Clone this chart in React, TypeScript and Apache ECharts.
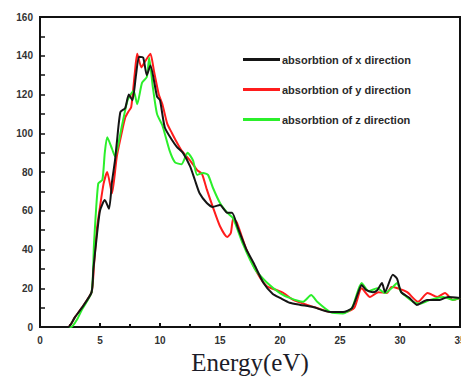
import React, { useEffect, useRef } from "react";
import * as echarts from "echarts";

const seriesNames = [
  "absorbtion of x direction",
  "absorbtion of y direction",
  "absorbtion of z direction",
];

const energyX = [0, 2.35, 2.9, 3.5, 4.3, 4.45, 4.7, 5.0, 5.4, 5.75, 6.0, 6.25, 6.4, 6.7, 7.1, 7.4, 7.7, 8.0, 8.25, 8.6, 8.9, 9.2, 9.75, 10.0, 10.4, 11.0, 11.4, 11.9, 12.5, 12.9, 13.3, 13.9, 14.4, 15.0, 15.6, 16.0, 16.5, 17.2, 17.8, 18.6, 19.4, 20.0, 20.8, 21.7, 22.75, 24.2, 25.25, 26.0, 26.5, 26.8, 27.2, 27.75, 28.1, 28.5, 28.75, 29.4, 29.75, 30.1, 30.8, 31.4, 32.25, 33.3, 34.0, 35];
const absorbX = [0, 0, 5, 10, 18, 30, 45, 60, 65.5, 61, 75, 86, 95, 111, 113, 120, 117, 130, 139.5, 139, 130, 135, 119, 117, 103, 96.5, 93, 90, 83, 76, 69, 64, 62, 63, 59, 59, 51, 40, 33, 23, 17, 15, 12.5, 11.4, 10.3, 7.7, 7.7, 9.8, 17.5, 21.7, 19, 18, 19, 22.7, 18, 27, 25, 18, 15, 11.4, 14, 14, 15.5, 15];

const energyY = [0, 2.35, 2.9, 3.5, 4.3, 4.5, 4.75, 5.0, 5.3, 5.6, 6.0, 6.4, 6.8, 7.1, 7.35, 7.6, 7.9, 8.1, 8.45, 8.75, 9.2, 9.5, 9.9, 10.2, 10.6, 11.0, 11.25, 11.8, 12.5, 13.1, 13.5, 13.9, 14.4, 15.0, 15.6, 15.9, 16.1, 16.4, 17.2, 18.1, 18.9, 19.75, 20.3, 21.1, 22.25, 23.1, 24.2, 25.5, 26.2, 26.8, 27.5, 28.2, 28.9, 29.3, 29.8, 30.6, 31.5, 32.3, 33.1, 33.75, 34.4, 35];
const absorbY = [0, 0, 5, 10, 18, 32, 51, 62, 74, 80, 69, 88, 100, 108, 111, 113.5, 131, 141, 134, 137, 141, 132, 120, 115, 105, 100, 97, 91, 86, 81, 79, 71, 62, 52, 46.5, 48.5, 56, 54, 40, 28, 21, 19, 17.5, 14, 11.4, 9.8, 7.7, 7.7, 10, 20, 15.5, 18, 17.5, 20.6, 20, 18, 13, 17.5, 15.5, 17.5, 14, 15];

const energyZ = [0, 2.6, 3.1, 3.5, 4.3, 4.5, 4.85, 5.2, 5.4, 5.6, 6.0, 6.25, 6.8, 7.3, 7.8, 8.1, 8.5, 8.9, 9.1, 9.4, 9.75, 10.2, 10.8, 11.25, 11.8, 12.3, 12.75, 13.1, 13.6, 14.0, 14.4, 15.0, 15.6, 16.1, 16.9, 17.9, 18.9, 20.0, 20.8, 21.9, 22.6, 23.1, 24.2, 25.25, 26.0, 26.8, 27.4, 28.1, 28.75, 29.4, 29.75, 30.1, 31.1, 31.7, 32.5, 33.6, 34.4, 35];
const absorbZ = [0, 0, 4, 9, 18, 43, 74, 76, 90, 98, 92, 88, 103, 117, 122, 115, 126, 129, 139, 124, 110, 104, 91, 85, 84, 90, 86, 78.5, 79.5, 78.5, 72, 64, 59, 56, 43, 30, 23, 17.5, 15, 13, 16.5, 13, 7.7, 7, 9.8, 22.7, 18.5, 20, 17.5, 20.6, 22.7, 18, 13, 12, 14, 15.5, 14, 15];

const colors = ["#151515", "#ff1c1c", "#2bef2b"];
const axisTitle = "Energy(eV)";

const zip = (xs: number[], ys: number[]) => xs.map((x, i) => [x, ys[i]]);

export default function App() {
  const ref = useRef<HTMLDivElement>(null);
  useEffect(() => {
    if (!ref.current) return;
    const chart = echarts.init(ref.current, null, { renderer: "svg" });
    const datasets = [zip(energyX, absorbX), zip(energyY, absorbY), zip(energyZ, absorbZ)];
    chart.setOption({
      animation: false,
      backgroundColor: "#ffffff",
      grid: {
        left: 40,
        right: 1,
        top: 17,
        bottom: 51,
        show: true,
        borderColor: "#111",
        borderWidth: 2,
        outerBoundsMode: "none",
        containLabel: false,
      },
      legend: {
        orient: "vertical",
        left: 243,
        top: 54,
        padding: 0,
        itemWidth: 37,
        itemHeight: 3,
        itemGap: 19,
        icon: "rect",
        data: seriesNames,
        textStyle: {
          fontFamily: "Liberation Sans, Arial, sans-serif",
          fontWeight: "bold",
          fontSize: 11,
          color: "#2a2a2a",
          padding: [0, 0, 0, -3],
        },
      },
      xAxis: {
        type: "value",
        min: 0,
        max: 35,
        interval: 5,
        name: axisTitle,
        nameLocation: "middle",
        nameGap: 23,
        nameTextStyle: {
          fontFamily: "Liberation Serif, Times New Roman, serif",
          fontSize: 25,
          color: "#1c1c28",
        },
        axisLine: { show: true, lineStyle: { color: "#111", width: 2 } },
        axisTick: { show: true, inside: true, length: 4, lineStyle: { color: "#111", width: 2 } },
        minorTick: { show: true, splitNumber: 2, length: 3, lineStyle: { color: "#111", width: 2 } },
        splitLine: { show: false },
        axisLabel: {
          fontFamily: "Liberation Sans, Arial, sans-serif",
          fontWeight: "bold",
          fontSize: 10,
          color: "#333",
          margin: 8,
          showMaxLabel: true,
        },
      },
      yAxis: {
        type: "value",
        min: 0,
        max: 160,
        interval: 20,
        axisLine: { show: true, lineStyle: { color: "#111", width: 2 } },
        axisTick: { show: true, inside: true, length: 5, lineStyle: { color: "#111", width: 1.5 } },
        minorTick: { show: true, splitNumber: 2, length: 5, lineStyle: { color: "#111", width: 1.5 } },
        splitLine: { show: false },
        axisLabel: {
          fontFamily: "Liberation Sans, Arial, sans-serif",
          fontWeight: "bold",
          fontSize: 10,
          color: "#333",
          margin: 7,
        },
      },
      series: seriesNames.map((name, i) => ({
        name,
        type: "line",
        data: datasets[i],
        symbol: "none",
        smooth: 0.2,
        z: i === 2 ? 3 : i === 1 ? 2 : 4,
        lineStyle: { color: colors[i], width: 2 },
        itemStyle: { color: colors[i] },
      })),
    });
    return () => chart.dispose();
  }, []);
  return (
    <div
      ref={ref}
      style={{ position: "fixed", left: 0, top: 0, width: 461, height: 378 }}
    />
  );
}
